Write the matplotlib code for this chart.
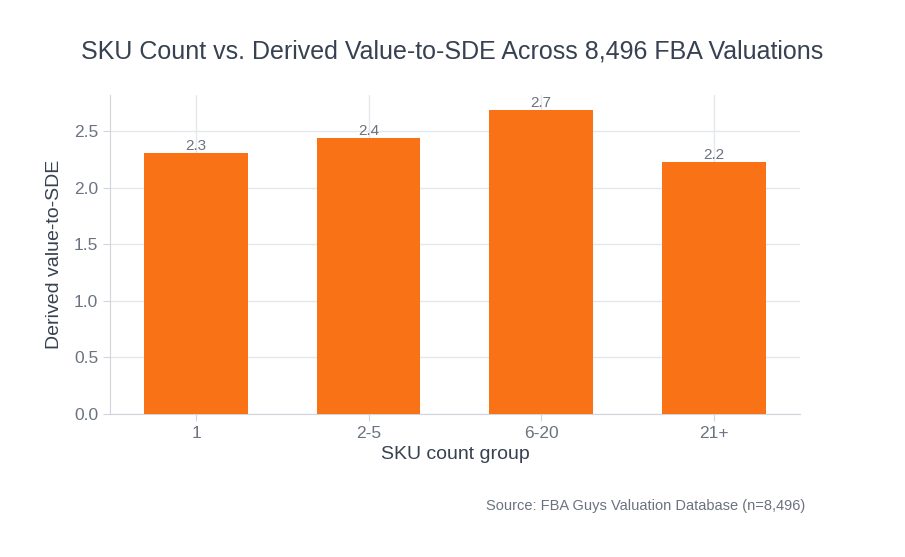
import matplotlib as mpl

mpl.use('Agg')
import matplotlib.pyplot as plt

groups = ["1", "2-5", "6-20", "21+"]
values = [2.31, 2.44, 2.69, 2.23]
labels = ["2.3", "2.4", "2.7", "2.2"]

plt.rcParams['font.family'] = ['Liberation Sans', 'DejaVu Sans']

fig = plt.figure(figsize=(9.05, 5.57), dpi=100)
ax = fig.add_axes([0.1215, 0.257, 0.7625, 0.572])

x = list(range(len(groups)))
ax.bar(x, values, width=0.6, color='#F97316', zorder=3)
for xi, v, lab in zip(x, values, labels):
    ax.text(xi, v, lab, ha='center', va='bottom', fontsize=11, color='#6b7280', zorder=4)

ax.set_xlim(-0.5, 3.5)
ax.set_ylim(0, 2.82)
ax.set_xticks(x)
ax.set_xticklabels(groups)
ax.set_yticks([0, 0.5, 1.0, 1.5, 2.0, 2.5])
ax.set_yticklabels(["0.0", "0.5", "1.0", "1.5", "2.0", "2.5"])
ax.grid(True, color='#e5e7eb', linewidth=1, zorder=0)
ax.tick_params(colors='#6b7280', labelsize=12.5, length=5, color='#d1d5db')
for s in ['top', 'right']:
    ax.spines[s].set_visible(False)
for s in ['left', 'bottom']:
    ax.spines[s].set_color('#d1d5db')

ax.set_xlabel("SKU count group", fontsize=14, color='#374151', labelpad=4)
ax.set_ylabel("Derived value-to-SDE", fontsize=14, color='#374151', labelpad=8)
fig.text(0.5, 0.895, "SKU Count vs. Derived Value-to-SDE Across 8,496 FBA Valuations",
         ha='center', fontsize=18, color='#374151')
fig.text(0.89, 0.085, "Source: FBA Guys Valuation Database (n=8,496)",
         ha='right', fontsize=10.5, color='#6b7280')

fig.savefig('out.png', dpi=100)
